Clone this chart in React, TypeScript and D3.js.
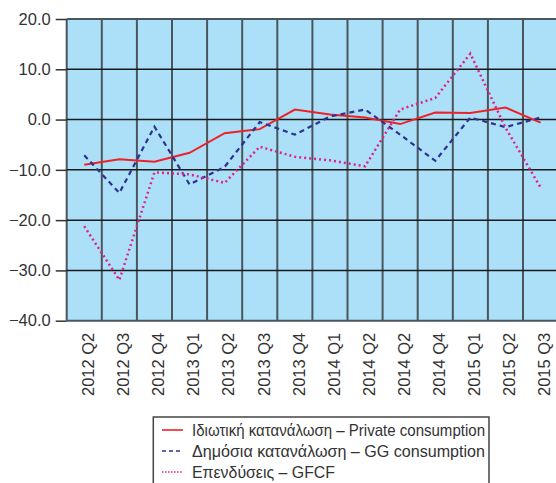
import React, { useEffect, useRef } from "react";
import * as d3 from "d3";

const quarters = [
  "2012 Q2", "2012 Q3", "2012 Q4", "2013 Q1", "2013 Q2", "2013 Q3", "2013 Q4",
  "2014 Q1", "2014 Q2", "2014 Q2", "2014 Q4", "2015 Q1", "2015 Q2", "2015 Q3",
];
const privateCons = [-9.0, -7.9, -8.4, -6.6, -2.7, -1.9, 2.0, 1.0, 0.4, -0.9, 1.4, 1.3, 2.4, -0.6];
const ggCons = [-7.1, -14.6, -1.4, -12.9, -9.4, -0.5, -3.0, 0.6, 2.0, -3.0, -8.2, 0.4, -1.5, 0.4];
const gfcf = [-21.2, -31.9, -10.5, -10.9, -12.6, -5.4, -7.4, -8.1, -9.3, 2.0, 4.3, 13.1, -1.6, -13.5];
const yTicks = [-40, -30, -20, -10, 0, 10, 20];

const series = [
  { name: "Ιδιωτική κατανάλωση – Private consumption", values: privateCons, color: "#ee2128", dash: null, width: 2 },
  { name: "Δημόσια κατανάλωση – GG consumption", values: ggCons, color: "#2e3192", dash: "5,4", width: 2.2 },
  { name: "Επενδύσεις – GFCF", values: gfcf, color: "#e0208f", dash: "2,3", width: 2.5 },
];
const legendWidths = [293, 293, 143];

export default function App() {
  const ref = useRef<SVGSVGElement>(null);

  useEffect(() => {
    const svg = d3.select(ref.current);
    svg.selectAll("*").remove();

    const left = 66.7, top = 19, bottom = 320.7;
    const x = d3.scaleBand<number>().domain(quarters.map((_, i) => i)).range([left, left + 14 * 35.1]);
    const y = d3.scaleLinear().domain([-40, 20]).range([bottom, top]);
    const font = "'Liberation Sans', Arial, sans-serif";

    svg.append("rect")
      .attr("x", left).attr("y", top)
      .attr("width", 556 - left).attr("height", bottom - top)
      .attr("fill", "#ace0f8");

    // vertical grid at band edges
    svg.selectAll(".vgrid").data(quarters.map((_, i) => i)).join("line")
      .attr("class", "vgrid")
      .attr("x1", d => x(d)!).attr("x2", d => x(d)!)
      .attr("y1", top).attr("y2", bottom)
      .attr("stroke", "#4a565c").attr("stroke-width", 2);

    // y axis + horizontal grid
    const yAxis = svg.append("g")
      .attr("transform", `translate(${left},0)`)
      .call(d3.axisLeft(y).tickValues(yTicks).tickFormat(d3.format(".1f")).tickSize(11).tickPadding(5));
    yAxis.select(".domain").remove();
    yAxis.selectAll(".tick line").attr("stroke", "#333").attr("stroke-width", 1.5);
    yAxis.selectAll("text").attr("fill", "#333").style("font-family", font).style("font-size", "16.5px");

    svg.selectAll(".hgrid").data(yTicks).join("line")
      .attr("class", "hgrid")
      .attr("x1", left).attr("x2", 556)
      .attr("y1", d => y(d)).attr("y2", d => y(d))
      .attr("stroke", d => (d === 20 || d === -40) ? "#4a565c" : "#1a1a1a")
      .attr("stroke-width", d => (d === 20 || d === -40) ? 2 : 1.5);

    // x labels
    svg.selectAll(".xlab").data(quarters).join("text")
      .attr("class", "xlab")
      .attr("transform", (_, i) => `translate(${x(i)! + x.bandwidth() / 2 + 4},${bottom + 12}) rotate(-90)`)
      .attr("dy", "0.35em")
      .style("text-anchor", "end")
      .style("font-family", font).style("font-size", "16.5px")
      .attr("fill", "#333")
      .text(d => d);

    const line = d3.line<number>()
      .x((_, i) => x(i)! + x.bandwidth() / 2)
      .y(d => y(d));

    series.forEach(s => {
      svg.append("path")
        .datum(s.values)
        .attr("d", line)
        .attr("fill", "none")
        .attr("stroke", s.color)
        .attr("stroke-width", s.width)
        .attr("stroke-dasharray", s.dash);
    });

    // legend
    const lg = svg.append("g");
    lg.append("rect")
      .attr("x", 153.3).attr("y", 417)
      .attr("width", 489 - 153.3).attr("height", 80)
      .attr("fill", "white").attr("stroke", "#444").attr("stroke-width", 1.5);
    series.forEach((s, i) => {
      const cy = 430 + i * 21;
      lg.append("line")
        .attr("x1", 162).attr("x2", 183)
        .attr("y1", cy).attr("y2", cy)
        .attr("stroke", s.color).attr("stroke-width", 1.6)
        .attr("stroke-dasharray", s.dash ? (i === 1 ? "4,3" : "1.5,1.5") : null);
      lg.append("text")
        .attr("x", 192).attr("y", cy)
        .attr("dy", "0.35em")
        .attr("textLength", legendWidths[i])
        .attr("lengthAdjust", "spacingAndGlyphs")
        .style("font-family", font)
        .style("font-size", "16.5px")
        .attr("fill", "#333")
        .text(s.name);
    });
  }, []);

  return (
    <svg ref={ref} width={556} height={483} style={{ position: "absolute", left: 0, top: 0 }} />
  );
}
